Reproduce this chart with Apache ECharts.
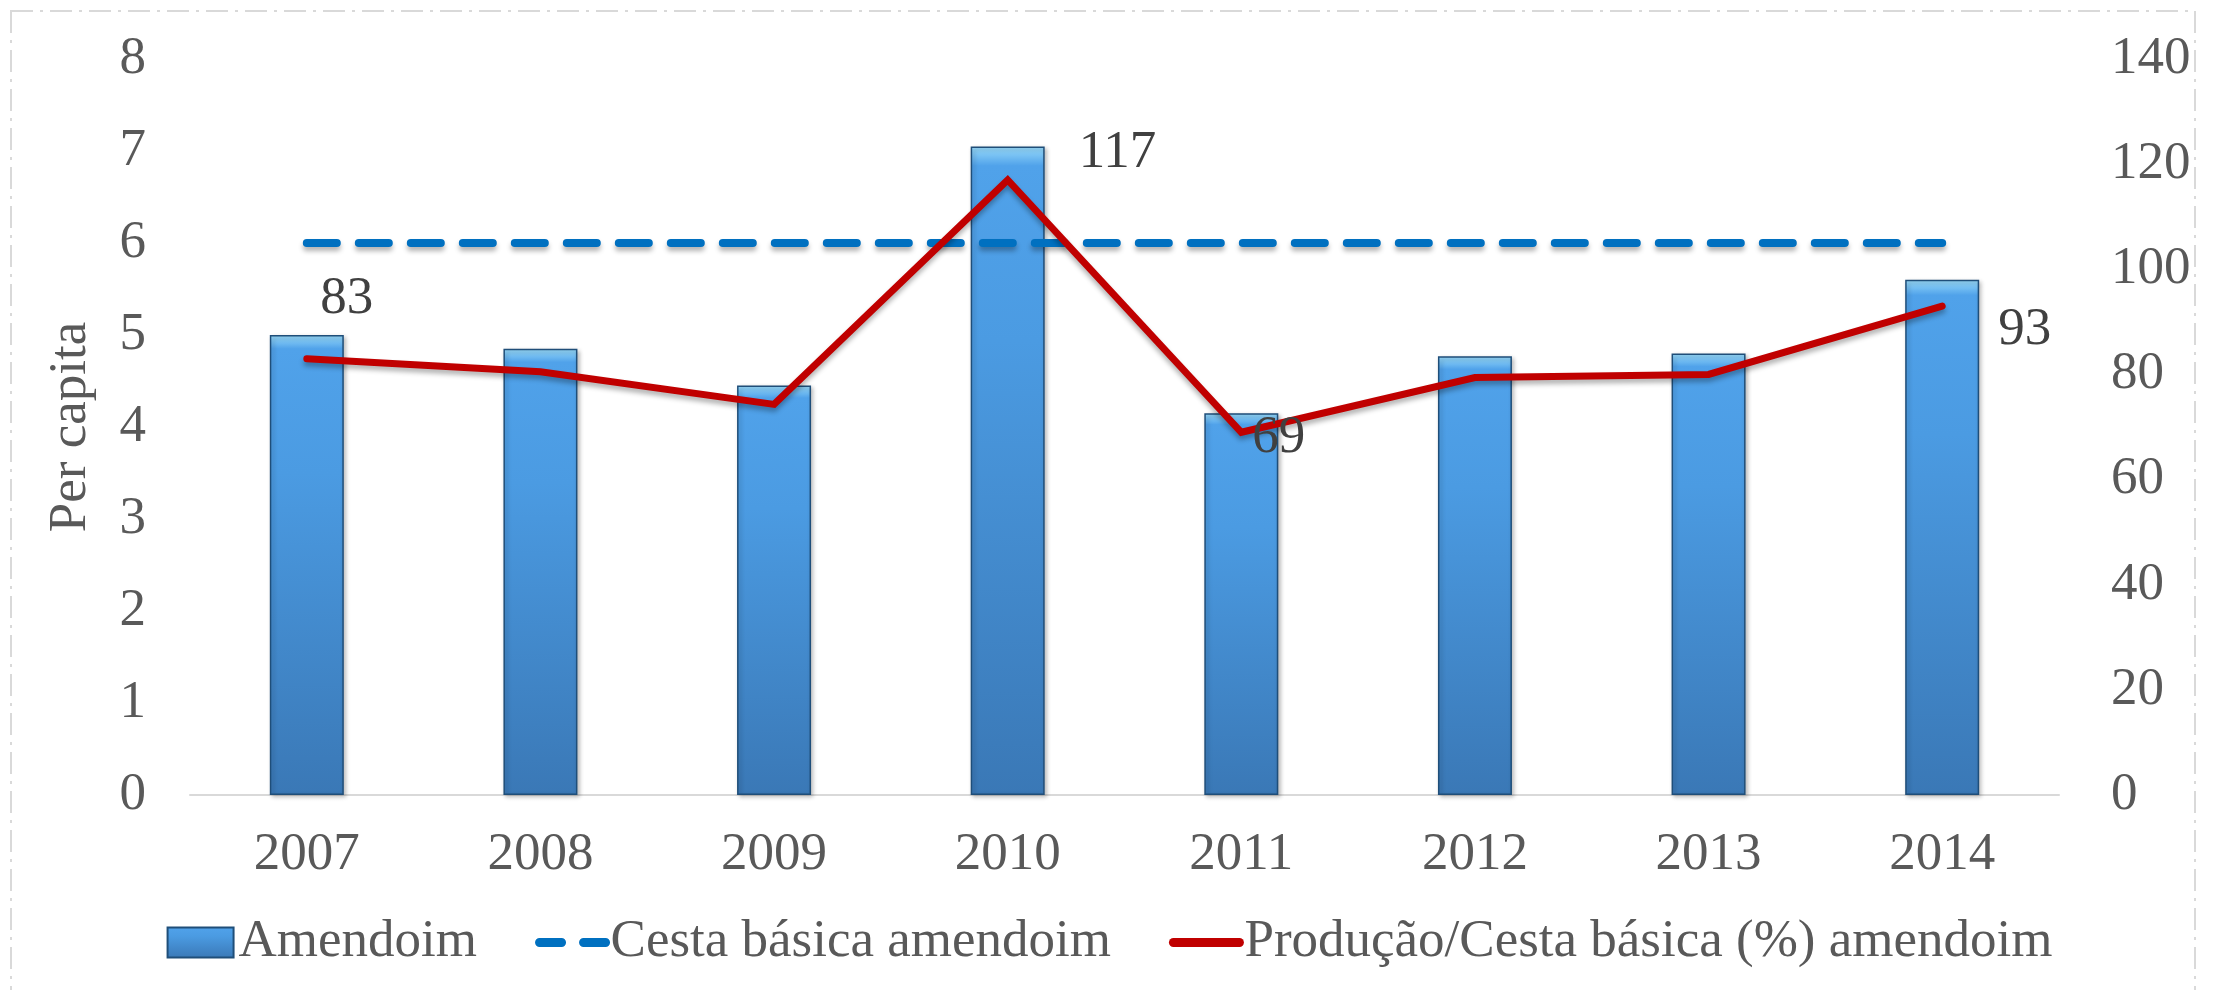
<!DOCTYPE html>
<html>
<head>
<meta charset="utf-8">
<title>Amendoim</title>
<script src="https://cdn.jsdelivr.net/npm/echarts@6/dist/echarts.min.js"></script>
<style>
  html, body { margin: 0; padding: 0; background: #fff; }
  #chart { width: 2219px; height: 990px; }
</style>
</head>
<body>
<div id="chart"></div>
<script>
// dados
const years = ['2007', '2008', '2009', '2010', '2011', '2012', '2013', '2014'];
const amendoim = [5.0, 4.85, 4.45, 7.05, 4.15, 4.77, 4.8, 5.6];
const cestaBasica = [6, 6, 6, 6, 6, 6, 6, 6];
const producaoCesta = [83, 80.5, 74.3, 117, 69, 79.4, 80, 93];

const FONT = "'Liberation Serif', 'DejaVu Serif', serif";
const GREY = '#595959';
const FS = 53;

// quais pontos levam rótulo e onde (só estilo)
const ratioLabels = {
  0: { position: 'top', offset: [40, -27] },
  3: { position: 'right', offset: [65, -27] },
  4: { position: 'right', offset: [5, 6] },
  7: { position: 'right', offset: [50, 24] }
};

const chart = echarts.init(document.getElementById('chart'));

const option = {
  backgroundColor: '#fff',
  animation: false,
  textStyle: { fontFamily: FONT },
  // moldura tracejada
  graphic: [{
    type: 'rect',
    shape: { x: 11, y: 11, width: 2184, height: 2000 },
    style: { fill: 'none', stroke: '#d9d9d9', lineWidth: 2, lineDash: [22, 7, 3, 7] },
    silent: true
  }],
  grid: { left: 190, right: 160, top: 59, bottom: 195 },
  legend: {
    bottom: 16,
    left: 'center',
    itemWidth: 66,
    itemHeight: 30,
    itemGap: 58,
    textStyle: { fontFamily: FONT, fontSize: FS, color: GREY },
    data: [
      { name: 'Amendoim', icon: 'rect' },
      { name: 'Cesta básica amendoim', itemStyle: { opacity: 0 }, lineStyle: { type: [22, 22], width: 9, cap: 'round' } },
      { name: 'Produção/Cesta básica (%) amendoim', itemStyle: { opacity: 0 }, lineStyle: { width: 9, cap: 'round' } }
    ]
  },
  xAxis: {
    type: 'category',
    data: years,
    axisLine: { lineStyle: { color: '#d9d9d9', width: 2 } },
    axisTick: { show: false },
    axisLabel: { fontFamily: FONT, fontSize: FS, color: GREY, margin: 34 }
  },
  yAxis: [
    {
      type: 'value',
      min: 0,
      max: 8,
      interval: 1,
      name: 'Per capita',
      nameLocation: 'middle',
      nameGap: 92,
      nameTextStyle: { fontFamily: FONT, fontSize: FS, color: GREY },
      axisLine: { show: false },
      axisTick: { show: false },
      splitLine: { show: false },
      axisLabel: { fontFamily: FONT, fontSize: FS, color: GREY, margin: 44 }
    },
    {
      type: 'value',
      min: 0,
      max: 140,
      interval: 20,
      axisLine: { show: false },
      axisTick: { show: false },
      splitLine: { show: false },
      axisLabel: { fontFamily: FONT, fontSize: FS, color: GREY, margin: 52 }
    }
  ],
  series: [
    {
      name: 'Amendoim',
      type: 'bar',
      barWidth: 74,
      data: amendoim,
      itemStyle: {
        color: new echarts.graphic.LinearGradient(0, 0, 0, 1, [
          { offset: 0, color: '#9adcfb' },
          { offset: 0.03, color: '#50a2ea' },
          { offset: 0.3, color: '#4b9be2' },
          { offset: 1, color: '#3a78b6' }
        ]),
        borderColor: '#1f4e79',
        borderWidth: 1.5,
        shadowColor: 'rgba(0,0,0,0.25)',
        shadowBlur: 4,
        shadowOffsetX: 2,
        shadowOffsetY: 2
      }
    },
    {
      name: 'Cesta básica amendoim',
      type: 'line',
      yAxisIndex: 0,
      symbol: 'none',
      data: cestaBasica,
      lineStyle: {
        color: '#0070c0',
        width: 8,
        type: [30, 22],
        cap: 'round',
        shadowColor: 'rgba(0,0,0,0.3)',
        shadowBlur: 5,
        shadowOffsetY: 4
      },
      itemStyle: { color: '#0070c0' },
      z: 3
    },
    {
      name: 'Produção/Cesta básica (%) amendoim',
      type: 'line',
      yAxisIndex: 1,
      symbol: 'circle',
      symbolSize: 2,
      data: producaoCesta.map((v, i) => ratioLabels[i]
        ? { value: v, label: Object.assign({ show: true }, ratioLabels[i]) }
        : v),
      label: {
        show: false,
        fontFamily: FONT,
        fontSize: FS,
        color: '#404040',
        formatter: p => Math.round(p.value)
      },
      lineStyle: {
        color: '#c00000',
        width: 7,
        cap: 'round',
        join: 'miter',
        shadowColor: 'rgba(0,0,0,0.3)',
        shadowBlur: 5,
        shadowOffsetY: 4
      },
      itemStyle: { color: '#c00000' },
      z: 4
    }
  ]
};

chart.setOption(option);
window.addEventListener('resize', chart.resize);
</script>
</body>
</html>
